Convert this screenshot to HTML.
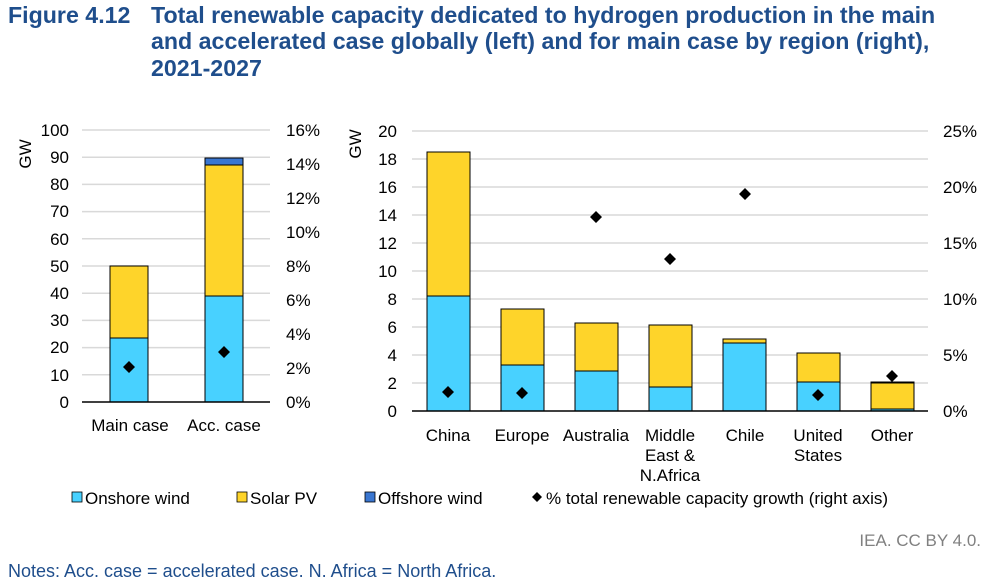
<!DOCTYPE html>
<html><head><meta charset="utf-8"><style>
body{margin:0;background:#fff;}
svg{display:block;font-family:"Liberation Sans",Arial,sans-serif;}
</style></head><body>
<svg width="985" height="582" viewBox="0 0 985 582" xmlns="http://www.w3.org/2000/svg">
<g font-weight="bold" font-size="23.2" fill="#1f4e8c">
<text x="8" y="23">Figure 4.12</text>
<text x="151" y="23">Total renewable capacity dedicated to hydrogen production in the main</text>
<text x="151" y="49">and accelerated case globally (left) and for main case by region (right),</text>
<text x="151" y="76">2021-2027</text>
</g>
<!-- Left chart -->
<g stroke="#d9d9d9" stroke-width="1.5">
<line x1="82" x2="270" y1="130" y2="130"/><line x1="82" x2="270" y1="157.2" y2="157.2"/>
<line x1="82" x2="270" y1="184.4" y2="184.4"/><line x1="82" x2="270" y1="211.6" y2="211.6"/>
<line x1="82" x2="270" y1="238.8" y2="238.8"/><line x1="82" x2="270" y1="266" y2="266"/>
<line x1="82" x2="270" y1="293.2" y2="293.2"/><line x1="82" x2="270" y1="320.4" y2="320.4"/>
<line x1="82" x2="270" y1="347.6" y2="347.6"/><line x1="82" x2="270" y1="374.8" y2="374.8"/>
</g>
<g font-size="17" fill="#000" text-anchor="end">
<text x="69" y="136">100</text><text x="69" y="163">90</text><text x="69" y="190">80</text>
<text x="69" y="217">70</text><text x="69" y="245">60</text><text x="69" y="272">50</text>
<text x="69" y="299">40</text><text x="69" y="326">30</text><text x="69" y="353">20</text>
<text x="69" y="381">10</text><text x="69" y="408">0</text>
</g>
<g font-size="17" fill="#000">
<text x="286" y="136">16%</text><text x="286" y="170">14%</text><text x="286" y="204">12%</text>
<text x="286" y="238">10%</text><text x="286" y="272">8%</text><text x="286" y="306">6%</text>
<text x="286" y="340">4%</text><text x="286" y="374">2%</text><text x="286" y="408">0%</text>
</g>
<text transform="translate(31,154) rotate(-90)" font-size="17" text-anchor="middle">GW</text>
<g stroke="#000" stroke-width="1">
<rect x="110" y="338" width="38" height="64" fill="#48d1ff"/>
<rect x="110" y="266" width="38" height="72" fill="#fed42a"/>
<rect x="205" y="296" width="38" height="106" fill="#48d1ff"/>
<rect x="205" y="165" width="38" height="131" fill="#fed42a"/>
<rect x="205" y="158" width="38" height="7" fill="#3a76d0"/>
</g>
<line x1="82" x2="270" y1="402" y2="402" stroke="#000" stroke-width="1.5"/>
<path d="M129 361l6 6-6 6-6-6z M224 346l6 6-6 6-6-6z" fill="#000"/>
<g font-size="17" text-anchor="middle"><text x="130" y="431">Main case</text><text x="224" y="431">Acc. case</text></g>
<!-- Right chart -->
<g stroke="#d9d9d9" stroke-width="1.5">
<line x1="412" x2="928" y1="131" y2="131"/><line x1="412" x2="928" y1="159" y2="159"/>
<line x1="412" x2="928" y1="187" y2="187"/><line x1="412" x2="928" y1="215" y2="215"/>
<line x1="412" x2="928" y1="243" y2="243"/><line x1="412" x2="928" y1="271" y2="271"/>
<line x1="412" x2="928" y1="299" y2="299"/><line x1="412" x2="928" y1="327" y2="327"/>
<line x1="412" x2="928" y1="355" y2="355"/><line x1="412" x2="928" y1="383" y2="383"/>
</g>
<g font-size="17" text-anchor="end">
<text x="397" y="137">20</text><text x="397" y="165">18</text><text x="397" y="193">16</text>
<text x="397" y="221">14</text><text x="397" y="249">12</text><text x="397" y="277">10</text>
<text x="397" y="305">8</text><text x="397" y="333">6</text><text x="397" y="361">4</text>
<text x="397" y="389">2</text><text x="397" y="417">0</text>
</g>
<g font-size="17">
<text x="943" y="137">25%</text><text x="943" y="193">20%</text><text x="943" y="249">15%</text>
<text x="943" y="305">10%</text><text x="943" y="361">5%</text><text x="943" y="417">0%</text>
</g>
<text transform="translate(361,144) rotate(-90)" font-size="17" text-anchor="middle">GW</text>
<g stroke="#000" stroke-width="1">
<rect x="427" y="296" width="43" height="115" fill="#48d1ff"/><rect x="427" y="152" width="43" height="144" fill="#fed42a"/>
<rect x="501" y="365" width="43" height="46" fill="#48d1ff"/><rect x="501" y="309" width="43" height="56" fill="#fed42a"/>
<rect x="575" y="371" width="43" height="40" fill="#48d1ff"/><rect x="575" y="323" width="43" height="48" fill="#fed42a"/>
<rect x="649" y="387" width="43" height="24" fill="#48d1ff"/><rect x="649" y="325" width="43" height="62" fill="#fed42a"/>
<rect x="723" y="343" width="43" height="68" fill="#48d1ff"/><rect x="723" y="339" width="43" height="4" fill="#fed42a"/>
<rect x="797" y="382" width="43" height="29" fill="#48d1ff"/><rect x="797" y="353" width="43" height="29" fill="#fed42a"/>
<rect x="871" y="409" width="43" height="2" fill="#48d1ff"/><rect x="871" y="383" width="43" height="26" fill="#fed42a"/>
<rect x="871" y="382" width="43" height="1" fill="#3a76d0"/>
</g>
<line x1="412" x2="928" y1="411" y2="411" stroke="#000" stroke-width="1.5"/>
<path d="M448 386l6 6-6 6-6-6z M522 387l6 6-6 6-6-6z M596 211l6 6-6 6-6-6z M670 253l6 6-6 6-6-6z M745 188l6 6-6 6-6-6z M818 389l6 6-6 6-6-6z M892 370l6 6-6 6-6-6z" fill="#000"/>
<g font-size="17" text-anchor="middle">
<text x="448" y="441">China</text><text x="522" y="441">Europe</text><text x="596" y="441">Australia</text>
<text x="670" y="441">Middle</text><text x="670" y="461">East &amp;</text><text x="670" y="481">N.Africa</text>
<text x="745" y="441">Chile</text><text x="818" y="441">United</text><text x="818" y="461">States</text>
<text x="892" y="441">Other</text>
</g>
<!-- Legend -->
<g font-size="17">
<rect x="72" y="492" width="10" height="10" fill="#48d1ff" stroke="#000" stroke-width="0.8"/><text x="85" y="504">Onshore wind</text>
<rect x="237" y="492" width="10" height="10" fill="#fed42a" stroke="#000" stroke-width="0.8"/><text x="250" y="504">Solar PV</text>
<rect x="365" y="492" width="10" height="10" fill="#3a76d0" stroke="#000" stroke-width="0.8"/><text x="378" y="504">Offshore wind</text>
<path d="M537 492l5 5-5 5-5-5z" fill="#000"/><text x="546" y="504">% total renewable capacity growth (right axis)</text>
</g>
<text x="981" y="546" font-size="17" fill="#808080" text-anchor="end">IEA. CC BY 4.0.</text>
<text x="8" y="577" font-size="18" fill="#1f4e8c">Notes: Acc. case = accelerated case. N. Africa = North Africa.</text>
</svg>
</body></html>
